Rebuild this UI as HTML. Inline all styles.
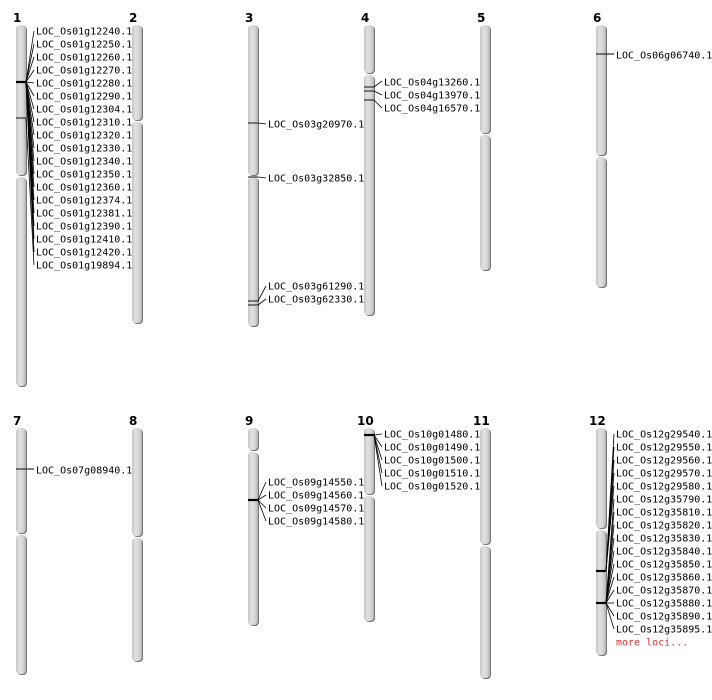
<!DOCTYPE html>
<html><head><meta charset="utf-8"><style>
html,body{margin:0;padding:0;background:#fff}
svg{display:block}
.t{font-family:"DejaVu Sans Mono","Liberation Mono",monospace;font-size:10px;fill:#000}
.n{font-family:"DejaVu Sans","Liberation Sans",sans-serif;font-size:12px;font-weight:bold;fill:#000}
.l{stroke:#000;stroke-width:0.8;fill:none}
.m{stroke:#333;stroke-width:1.2}
.mt{stroke:#000;stroke-width:2.2}
</style></head><body>
<svg width="712" height="700" viewBox="0 0 712 700" xmlns="http://www.w3.org/2000/svg">
<defs>
<linearGradient id="g" x1="0" x2="1" y1="0" y2="0">
<stop offset="0" stop-color="#c4c4c4"/><stop offset="0.35" stop-color="#e2e2e2"/><stop offset="0.75" stop-color="#d2d2d2"/><stop offset="1" stop-color="#b0b0b0"/>
</linearGradient>
</defs>
<g id="chroms">
<!-- x, top, cen, bottom -->
<g>
<rect x="17" y="26" width="10" height="150" rx="4" fill="#777"/><rect x="16" y="25" width="10" height="150" rx="4" fill="url(#g)"/>
<rect x="17" y="178" width="10" height="209" rx="4" fill="#777"/><rect x="16" y="177" width="10" height="209" rx="4" fill="url(#g)"/>

<rect x="133" y="26" width="10" height="95" rx="4" fill="#777"/><rect x="132" y="25" width="10" height="95" rx="4" fill="url(#g)"/>
<rect x="133" y="123" width="10" height="201" rx="4" fill="#777"/><rect x="132" y="122" width="10" height="201" rx="4" fill="url(#g)"/>

<rect x="249" y="26" width="10" height="150" rx="4" fill="#777"/><rect x="248" y="25" width="10" height="150" rx="4" fill="url(#g)"/>
<rect x="249" y="178" width="10" height="149" rx="4" fill="#777"/><rect x="248" y="177" width="10" height="149" rx="4" fill="url(#g)"/>

<rect x="365" y="26" width="10" height="48" rx="4" fill="#777"/><rect x="364" y="25" width="10" height="48" rx="4" fill="url(#g)"/>
<rect x="365" y="76" width="10" height="240" rx="4" fill="#777"/><rect x="364" y="75" width="10" height="240" rx="4" fill="url(#g)"/>

<rect x="481" y="26" width="10" height="108" rx="4" fill="#777"/><rect x="480" y="25" width="10" height="108" rx="4" fill="url(#g)"/>
<rect x="481" y="136" width="10" height="135" rx="4" fill="#777"/><rect x="480" y="135" width="10" height="135" rx="4" fill="url(#g)"/>

<rect x="597" y="26" width="10" height="130" rx="4" fill="#777"/><rect x="596" y="25" width="10" height="130" rx="4" fill="url(#g)"/>
<rect x="597" y="158" width="10" height="130" rx="4" fill="#777"/><rect x="596" y="157" width="10" height="130" rx="4" fill="url(#g)"/>

<rect x="17" y="429" width="10" height="105" rx="4" fill="#777"/><rect x="16" y="428" width="10" height="105" rx="4" fill="url(#g)"/>
<rect x="17" y="536" width="10" height="139" rx="4" fill="#777"/><rect x="16" y="535" width="10" height="139" rx="4" fill="url(#g)"/>

<rect x="133" y="429" width="10" height="108" rx="4" fill="#777"/><rect x="132" y="428" width="10" height="108" rx="4" fill="url(#g)"/>
<rect x="133" y="539" width="10" height="123" rx="4" fill="#777"/><rect x="132" y="538" width="10" height="123" rx="4" fill="url(#g)"/>

<rect x="249" y="429" width="10" height="22" rx="4" fill="#777"/><rect x="248" y="428" width="10" height="22" rx="4" fill="url(#g)"/>
<rect x="249" y="453" width="10" height="173" rx="4" fill="#777"/><rect x="248" y="452" width="10" height="173" rx="4" fill="url(#g)"/>

<rect x="365" y="429" width="10" height="66" rx="4" fill="#777"/><rect x="364" y="428" width="10" height="66" rx="4" fill="url(#g)"/>
<rect x="365" y="497" width="10" height="125" rx="4" fill="#777"/><rect x="364" y="496" width="10" height="125" rx="4" fill="url(#g)"/>

<rect x="481" y="429" width="10" height="116" rx="4" fill="#777"/><rect x="480" y="428" width="10" height="116" rx="4" fill="url(#g)"/>
<rect x="481" y="547" width="10" height="132" rx="4" fill="#777"/><rect x="480" y="546" width="10" height="132" rx="4" fill="url(#g)"/>

<rect x="597" y="429" width="10" height="100" rx="4" fill="#777"/><rect x="596" y="428" width="10" height="100" rx="4" fill="url(#g)"/>
<rect x="597" y="531" width="10" height="125" rx="4" fill="#777"/><rect x="596" y="530" width="10" height="125" rx="4" fill="url(#g)"/>
</g>
</g>
<g>
<text class="n" x="13" y="22">1</text><text class="n" x="129" y="22">2</text><text class="n" x="245" y="22">3</text>
<text class="n" x="361" y="22">4</text><text class="n" x="477" y="22">5</text><text class="n" x="593" y="22">6</text>
<text class="n" x="13" y="425">7</text><text class="n" x="129" y="425">8</text><text class="n" x="245" y="425">9</text>
<text class="n" x="357" y="425">10</text><text class="n" x="473" y="425">11</text><text class="n" x="589" y="425">12</text>
</g>

<!-- chr1 -->
<line class="mt" x1="16" y1="82" x2="26" y2="82"/><line class="m" x1="16" y1="118" x2="26" y2="118"/>
<g class="l">
<path d="M26 82 L34 31"/><path d="M26 82 L34 44"/><path d="M26 82 L34 57"/><path d="M26 82 L34 70"/><path d="M26 82 L34 83"/>
<path d="M26 82 L34 96"/><path d="M26 82 L34 109"/><path d="M26 82 L34 122"/><path d="M26 82 L34 135"/><path d="M26 82 L34 148"/>
<path d="M26 82 L34 161"/><path d="M26 82 L34 174"/><path d="M26 82 L34 187"/><path d="M26 82 L34 200"/><path d="M26 82 L34 213"/>
<path d="M26 82 L34 226"/><path d="M26 82 L34 239"/><path d="M26 82 L34 252"/><path d="M26 118 L34 265"/>
</g>
<g class="t">
<text x="36" y="34.5">LOC_Os01g12240.1</text><text x="36" y="47.5">LOC_Os01g12250.1</text><text x="36" y="60.5">LOC_Os01g12260.1</text>
<text x="36" y="73.5">LOC_Os01g12270.1</text><text x="36" y="86.5">LOC_Os01g12280.1</text><text x="36" y="99.5">LOC_Os01g12290.1</text>
<text x="36" y="112.5">LOC_Os01g12304.1</text><text x="36" y="125.5">LOC_Os01g12310.1</text><text x="36" y="138.5">LOC_Os01g12320.1</text>
<text x="36" y="151.5">LOC_Os01g12330.1</text><text x="36" y="164.5">LOC_Os01g12340.1</text><text x="36" y="177.5">LOC_Os01g12350.1</text>
<text x="36" y="190.5">LOC_Os01g12360.1</text><text x="36" y="203.5">LOC_Os01g12374.1</text><text x="36" y="216.5">LOC_Os01g12381.1</text>
<text x="36" y="229.5">LOC_Os01g12390.1</text><text x="36" y="242.5">LOC_Os01g12410.1</text><text x="36" y="255.5">LOC_Os01g12420.1</text>
<text x="36" y="268.5">LOC_Os01g19894.1</text>
</g>

<!-- chr3 -->
<line class="m" x1="248" y1="123" x2="258" y2="123"/><line class="m" x1="248" y1="177" x2="258" y2="177"/>
<line class="m" x1="248" y1="301" x2="258" y2="301"/><line class="m" x1="248" y1="305" x2="258" y2="305"/>
<g class="l"><path d="M258 123 L266 124"/><path d="M258 177 L266 178"/><path d="M258 301 L266 286"/><path d="M258 305 L266 299"/></g>
<g class="t"><text x="268" y="127.5">LOC_Os03g20970.1</text><text x="268" y="181.5">LOC_Os03g32850.1</text>
<text x="268" y="289.5">LOC_Os03g61290.1</text><text x="268" y="302.5">LOC_Os03g62330.1</text></g>

<!-- chr4 -->
<line class="m" x1="364" y1="87" x2="374" y2="87"/><line class="m" x1="364" y1="91" x2="374" y2="91"/><line class="m" x1="364" y1="100" x2="374" y2="100"/>
<g class="l"><path d="M374 87 L382 81"/><path d="M374 91 L382 95"/><path d="M374 100 L382 108"/></g>
<g class="t"><text x="384" y="85.5">LOC_Os04g13260.1</text><text x="384" y="98.5">LOC_Os04g13970.1</text><text x="384" y="111.5">LOC_Os04g16570.1</text></g>

<!-- chr6 -->
<line class="m" x1="596" y1="54" x2="614" y2="54"/>
<text class="t" x="616" y="58.5">LOC_Os06g06740.1</text>

<!-- chr7 -->
<line class="m" x1="16" y1="469" x2="34" y2="469"/>
<text class="t" x="36" y="473.5">LOC_Os07g08940.1</text>

<!-- chr9 -->
<line class="mt" x1="248" y1="500" x2="258" y2="500"/>
<g class="l"><path d="M258 500 L266 482"/><path d="M258 500 L266 495"/><path d="M258 500 L266 508"/><path d="M258 500 L266 521"/></g>
<g class="t"><text x="268" y="485.5">LOC_Os09g14550.1</text><text x="268" y="498.5">LOC_Os09g14560.1</text>
<text x="268" y="511.5">LOC_Os09g14570.1</text><text x="268" y="524.5">LOC_Os09g14580.1</text></g>

<!-- chr10 -->
<line class="mt" x1="364" y1="435" x2="374" y2="435"/>
<g class="l"><path d="M374 435 L382 434"/><path d="M374 435 L382 447"/><path d="M374 435 L382 460"/><path d="M374 435 L382 473"/><path d="M374 435 L382 486"/></g>
<g class="t"><text x="384" y="437.5">LOC_Os10g01480.1</text><text x="384" y="450.5">LOC_Os10g01490.1</text><text x="384" y="463.5">LOC_Os10g01500.1</text>
<text x="384" y="476.5">LOC_Os10g01510.1</text><text x="384" y="489.5">LOC_Os10g01520.1</text></g>

<!-- chr12 -->
<line class="mt" x1="596" y1="571" x2="606" y2="571"/><line class="mt" x1="596" y1="603" x2="606" y2="603"/>
<g class="l">
<path d="M606 571 L614 434"/><path d="M606 571 L614 447"/><path d="M606 571 L614 460"/><path d="M606 571 L614 473"/><path d="M606 571 L614 486"/>
<path d="M606 603 L614 499"/><path d="M606 603 L614 512"/><path d="M606 603 L614 525"/><path d="M606 603 L614 538"/><path d="M606 603 L614 551"/>
<path d="M606 603 L614 564"/><path d="M606 603 L614 577"/><path d="M606 603 L614 590"/><path d="M606 603 L614 603"/><path d="M606 603 L614 616"/><path d="M606 603 L614 629"/>
</g>
<g class="t">
<text x="616" y="437.5">LOC_Os12g29540.1</text><text x="616" y="450.5">LOC_Os12g29550.1</text><text x="616" y="463.5">LOC_Os12g29560.1</text>
<text x="616" y="476.5">LOC_Os12g29570.1</text><text x="616" y="489.5">LOC_Os12g29580.1</text><text x="616" y="502.5">LOC_Os12g35790.1</text>
<text x="616" y="515.5">LOC_Os12g35810.1</text><text x="616" y="528.5">LOC_Os12g35820.1</text><text x="616" y="541.5">LOC_Os12g35830.1</text>
<text x="616" y="554.5">LOC_Os12g35840.1</text><text x="616" y="567.5">LOC_Os12g35850.1</text><text x="616" y="580.5">LOC_Os12g35860.1</text>
<text x="616" y="593.5">LOC_Os12g35870.1</text><text x="616" y="606.5">LOC_Os12g35880.1</text><text x="616" y="619.5">LOC_Os12g35890.1</text>
<text x="616" y="632.5">LOC_Os12g35895.1</text>
<text x="616" y="645.5" style="fill:#e03030">more loci...</text>
</g>
</svg>
</body></html>
